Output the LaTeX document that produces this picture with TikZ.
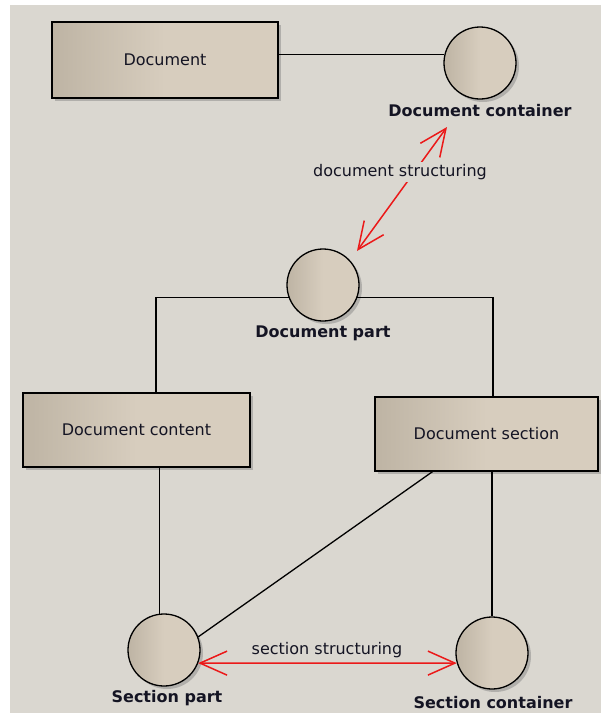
\documentclass[tikz,border=0pt]{standalone}
\usepackage{fontspec}
\setmainfont{DejaVu Sans}
\usetikzlibrary{shadows,arrows.meta}
\definecolor{bgc}{RGB}{218,215,208}
\definecolor{boxL}{RGB}{190,180,164}
\definecolor{boxR}{RGB}{215,205,190}
\definecolor{txt}{RGB}{20,20,35}
\definecolor{rel}{RGB}{235,25,25}
\tikzset{
  every node/.style={text=txt,font=\fontsize{16}{19}\selectfont},
  classbox/.style={draw=black,line width=1.3pt,left color=boxL,right color=boxR,middle color=boxR,
    drop shadow={shadow xshift=3pt,shadow yshift=-3pt,opacity=0.45,fill=gray},inner sep=0pt},
  iface/.style={circle,draw=black,line width=1.3pt,left color=boxL,right color=boxR,middle color=boxR,
    drop shadow={shadow xshift=3pt,shadow yshift=-3pt,opacity=0.45,fill=gray},minimum size=72pt,inner sep=0pt},
  lbl/.style={font=\bfseries\fontsize{16}{19}\selectfont,inner sep=1pt},
  link/.style={draw=black,line width=1.3pt},
  relarrow/.style={draw=rel,line width=1.5pt,{Straight Barb[length=27pt,width=24pt,line width=1.5pt]}-{Straight Barb[length=27pt,width=24pt,line width=1.5pt]}}
}
\begin{document}
\begin{tikzpicture}[x=1pt,y=-1pt]
\useasboundingbox (0,0) rectangle (601,713);
\fill[white] (0,0) rectangle (601,713);
\fill[bgc] (10,5) rectangle (601,713);

\node[classbox,minimum width=226pt,minimum height=76pt] (doc) at (165,60) {Document};
\node[iface] (cont) at (480,63) {};
\node[lbl] (contlbl) at (480,111) {Document container};

\node[iface] (part) at (323,285) {};
\node[lbl] (partlbl) at (323,333) {Document part};

\node[classbox,minimum width=227pt,minimum height=74pt] (content) at (136.5,430) {Document content};
\node[classbox,minimum width=223pt,minimum height=74pt] (section) at (486.5,434) {Document section};

\node[iface] (spart) at (164,650) {};
\node[lbl] (spartlbl) at (167,698) {Section part};
\node[iface] (scont) at (492,653) {};
\node[lbl] (scontlbl) at (493,703) {Section container};

% structural links
\draw[link] (doc.east |- cont.167) -- (cont.167);
\draw[link] (part.200) -| ([xshift=19.5pt]content.north);
\draw[link] (part.340) -| ([xshift=6.5pt]section.north);
\draw[link] (content.south -| spart.97) -- (spart.97);
\draw[link] (section.south -| scont.north) -- (scont.north);
\draw[link] (spart.21) -- ([xshift=-54pt]section.south);

% structuring relations
\coordinate (ds1) at (447,127);
\coordinate (ds2) at (357,251);
\draw[relarrow] (ds2) -- (ds1);
\node[fill=bgc,inner sep=2pt] (dslbl) at (400,172) {document structuring};
\draw[relarrow] (spart.-21) -- (scont.196);
\node (sslbl) at (327,650) {section structuring};
\end{tikzpicture}
\end{document}
